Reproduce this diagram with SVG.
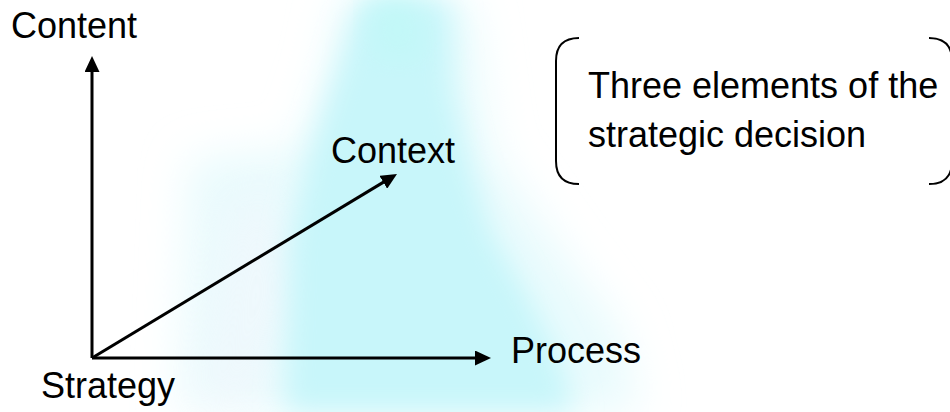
<svg xmlns="http://www.w3.org/2000/svg" width="950" height="412" viewBox="0 0 950 412">
  <defs>
    <filter id="blur" x="-30%" y="-30%" width="160%" height="160%">
      <feGaussianBlur stdDeviation="14"/>
    </filter>
    <filter id="blur2" x="-30%" y="-30%" width="160%" height="160%">
      <feGaussianBlur stdDeviation="22"/>
    </filter>
    <marker id="arrow" markerUnits="userSpaceOnUse" markerWidth="16" markerHeight="15" refX="8" refY="7.5" orient="auto">
      <path d="M0,0 L16,7.5 L0,15 Z" fill="#000"/>
    </marker>
    <style>
      .lbl { font-family: "Liberation Sans", Arial, sans-serif; font-size: 36px; fill: #000; }
      .axis { stroke: #000; stroke-width: 3; fill: none; marker-end: url(#arrow); }
      .bracket { stroke: #000; stroke-width: 2; fill: none; }
    </style>
  </defs>
  <rect width="950" height="412" fill="#ffffff"/>
  <g id="background">
    <polygon points="190,160 300,150 330,60 340,0 470,0 490,150 560,250 620,330 640,412 180,412" fill="#E8FBFD" filter="url(#blur2)"/>
    <polygon points="230,200 280,190 300,300 250,412 200,412" fill="#FCF3FC" opacity="0.35" filter="url(#blur2)"/>
    <polygon points="360,0 450,0 452,90 468,160 490,230 530,300 560,360 575,412 285,412 290,240 308,160 335,80" fill="#C8F6FA" filter="url(#blur)"/>
    <polygon points="370,0 420,0 425,60 375,60" fill="#C2F8F8" filter="url(#blur)"/>
  </g>
  <g id="connectors">
    <line class="axis" x1="92" y1="358" x2="92" y2="64"/>
    <line class="axis" x1="92" y1="358" x2="483" y2="358"/>
    <line class="axis" x1="92" y1="358" x2="390.15" y2="178.13"/>
  </g>
  <g id="node-content"><text class="lbl" x="11" y="38">Content</text></g>
  <g id="node-context"><text class="lbl" x="331" y="163">Context</text></g>
  <g id="node-process"><text class="lbl" x="511" y="363">Process</text></g>
  <g id="node-strategy"><text class="lbl" x="41" y="398">Strategy</text></g>
  <g id="node-note">
    <path class="bracket" d="M579,38 Q556,38 556,61 V161 Q556,184 579,184"/>
    <path class="bracket" d="M929,38 Q952,38 952,61 V161 Q952,184 929,184"/>
    <text class="lbl" x="588" y="98">Three elements of the</text>
    <text class="lbl" x="588" y="147">strategic decision</text>
  </g>
</svg>
